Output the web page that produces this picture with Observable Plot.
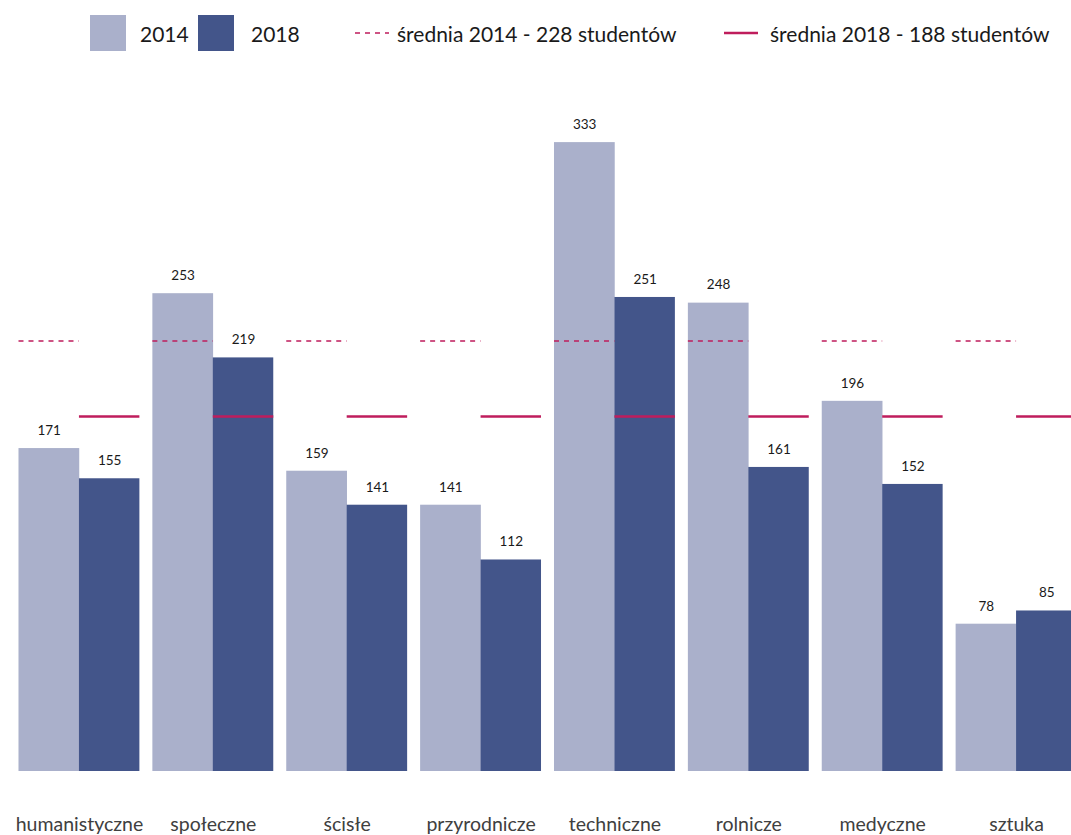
<!DOCTYPE html>
<html>
<head>
<meta charset="utf-8">
<script src="https://cdn.jsdelivr.net/npm/d3@7"></script>
<script src="https://cdn.jsdelivr.net/npm/@observablehq/plot@0.6"></script>
<style>
  html, body { margin: 0; padding: 0; background: #fff; overflow: hidden; width: 1071px; height: 835px; }
  body { font-family: Lato, "Open Sans", sans-serif; }
  #legend { position: relative; height: 68px; width: 1071px; font-size: 21px; color: #1a1a1a; }
  #legend .item { position: absolute; top: 0; height: 66px; display: flex; align-items: center; }
  #legend .sw { width: 36px; height: 36px; }
  #legend svg { display: block; }
  #chart svg { display: block; overflow: visible; }
</style>
</head>
<body>
<div id="legend"></div>
<div id="chart"></div>
<script>
const categories = ["humanistyczne", "społeczne", "ścisłe", "przyrodnicze", "techniczne", "rolnicze", "medyczne", "sztuka"];
const values2014 = [171, 253, 159, 141, 333, 248, 196, 78];
const values2018 = [155, 219, 141, 112, 251, 161, 152, 85];
const average2014 = 228;
const average2018 = 188;
const legendLabels = ["2014", "2018", "średnia 2014 - 228 studentów", "średnia 2018 - 188 studentów"];

const color2014 = "#aab0cb";
const color2018 = "#43558a";
const lineColor = "#bf1d5c";

const rows2014 = categories.map((c, i) => ({category: c, value: values2014[i]}));
const rows2018 = categories.map((c, i) => ({category: c, value: values2018[i]}));
const avgRows = categories.map(c => ({category: c, a14: average2014, a18: average2018}));

// Legend (HTML)
const legend = document.getElementById("legend");
function addItem(left, html) {
  const d = document.createElement("div");
  d.className = "item";
  d.style.left = left + "px";
  d.innerHTML = html;
  legend.appendChild(d);
}
addItem(90, `<div class="sw" style="background:${color2014}"></div>`);
addItem(140, `<span>${legendLabels[0]}</span>`);
addItem(198, `<div class="sw" style="background:${color2018}"></div>`);
addItem(251, `<span>${legendLabels[1]}</span>`);
addItem(355, `<svg width="34" height="4"><line x1="0" x2="34" y1="2" y2="2" stroke="${lineColor}" stroke-width="1.5" stroke-dasharray="5,5"/></svg>`);
addItem(397, `<span>${legendLabels[2]}</span>`);
addItem(724, `<svg width="34" height="4"><line x1="0" x2="34" y1="2" y2="2" stroke="${lineColor}" stroke-width="2.5"/></svg>`);
addItem(770, `<span>${legendLabels[3]}</span>`);

const half = 60.45;

const chart = Plot.plot({
  width: 1071,
  height: 767,
  marginTop: 42,
  marginBottom: 64,
  marginLeft: 0,
  marginRight: 0,
  style: {fontFamily: "Lato, 'Open Sans', sans-serif", background: "white", overflow: "visible"},
  x: {domain: categories, range: [12, 1083], round: false, paddingInner: 0.097, paddingOuter: 0.0485, axis: null},
  y: {domain: [0, 350], axis: null},
  marks: [
    Plot.barY(rows2014, {x: "category", y: "value", fill: color2014, insetRight: half - 0.3, insetLeft: 0}),
    Plot.barY(rows2018, {x: "category", y: "value", fill: color2018, insetLeft: half, insetRight: 0}),
    Plot.tickY(avgRows, {x: "category", y: "a14", stroke: lineColor, strokeWidth: 1.5, strokeDasharray: "5,5", insetRight: half}),
    Plot.tickY(avgRows, {x: "category", y: "a18", stroke: lineColor, strokeWidth: 2.5, insetLeft: half}),
    Plot.text(rows2014, {x: "category", y: "value", text: d => String(d.value), dx: -half / 2, dy: -18, fontSize: 13.5, fill: "#1a1a1a"}),
    Plot.text(rows2018, {x: "category", y: "value", text: d => String(d.value), dx: half / 2, dy: -18, fontSize: 13.5, fill: "#1a1a1a"}),
    Plot.axisX({tickSize: 0, tickPadding: 46, fontSize: 19.5, color: "#404040", label: null})
  ]
});
document.getElementById("chart").appendChild(chart);
</script>
</body>
</html>
